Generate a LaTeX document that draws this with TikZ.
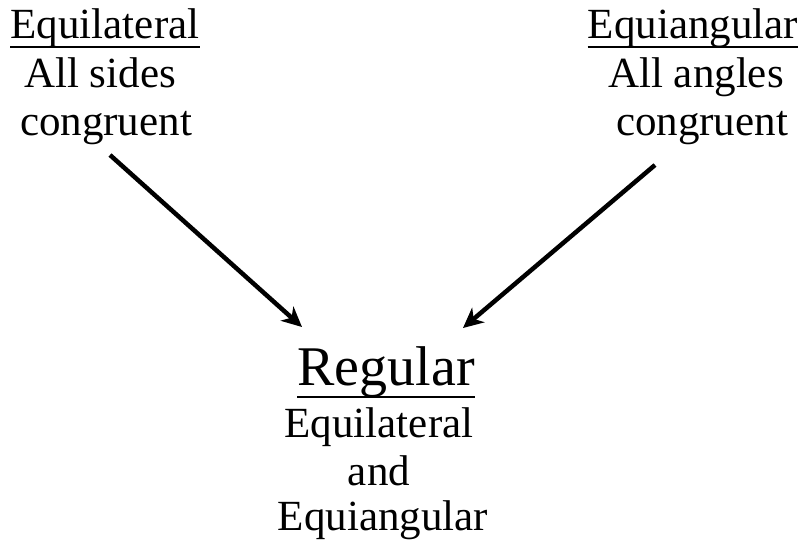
\documentclass[tikz,border=0pt]{standalone}
\usepackage{fontspec}
\setmainfont{Liberation Serif}
\usetikzlibrary{arrows.meta}
\begin{document}
\begin{tikzpicture}[x=1pt,y=-1pt,
  txt/.style={anchor=base,inner sep=0pt,font=\fontsize{43}{48}\selectfont},
  big/.style={anchor=base,inner sep=0pt,font=\fontsize{56}{60}\selectfont},
  uline/.style={line width=2.5pt},
  arr/.style={line width=4.5pt,-{Stealth[length=20pt,width=19pt,inset=6pt]}}]
\useasboundingbox (0,0) rectangle (804,546);
% top left
\node[txt] (eqlt) at (105,38) {Equilateral};
\node[txt] (als) at (100,87) {All sides};
\node[txt] (cgl) at (106,135) {congruent};
% top right
\node[txt] (eqat) at (693,38) {Equiangular};
\node[txt] (ala) at (696,87) {All angles};
\node[txt] (cgr) at (702,135) {congruent};
% bottom
\node[big] (reg) at (386,385) {Regular};
\node[txt] (eqlb) at (379,437) {Equilateral};
\node[txt] (and) at (379,485) {and};
\node[txt] (eqab) at (383,530) {Equiangular};
% underlines
\draw[uline] ([yshift=-9pt]eqlt.base west) -- ([yshift=-9pt]eqlt.base east);
\draw[uline] ([yshift=-9pt]eqat.base west) -- ([yshift=-9pt]eqat.base east);
\draw[uline] ([yshift=-12pt]reg.base west) -- ([yshift=-12pt]reg.base east);
% arrow endpoints
\coordinate (a1s) at (110,155);
\coordinate (a1e) at (302,327);
\coordinate (a2s) at (655,165);
\coordinate (a2e) at (463,328);
\draw[arr] (a1s) -- (a1e);
\draw[arr] (a2s) -- (a2e);
\end{tikzpicture}
\end{document}
